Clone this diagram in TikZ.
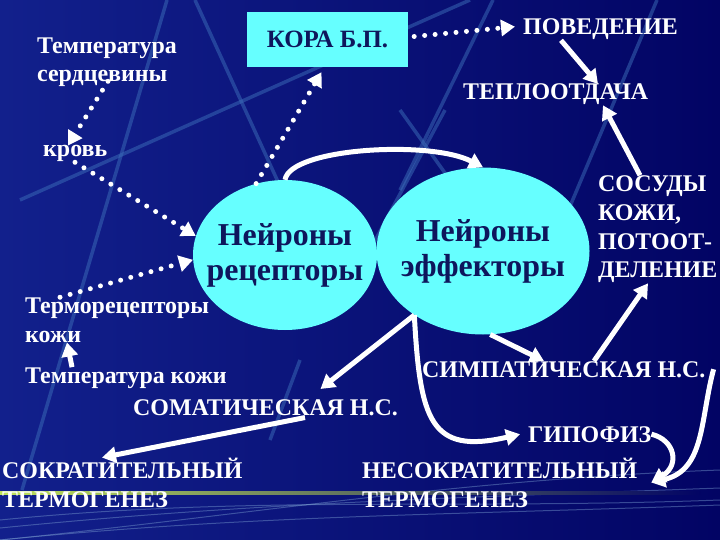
\documentclass[tikz,border=0pt]{standalone}
\usepackage{fontspec}
\setmainfont{Liberation Serif}
\usetikzlibrary{arrows.meta,shapes.geometric}
\definecolor{cnavy}{RGB}{2,4,100}
\definecolor{cbgleft}{RGB}{18,32,140}
\definecolor{ccyan}{RGB}{102,255,255}
\definecolor{cink}{RGB}{14,22,92}
\definecolor{cline}{RGB}{60,110,185}
\definecolor{cgold}{RGB}{190,225,90}

\begin{document}
\begin{tikzpicture}[x=1bp,y=-1bp,
  txt/.style={text=white,font=\bfseries\fontsize{24}{29}\selectfont,inner sep=0pt,align=left},
  neuron/.style={ellipse,fill=ccyan,text=cink,font=\bfseries\fontsize{32}{35}\selectfont,align=center,inner ysep=0pt,inner xsep=-30bp},
  arr/.style={draw=white,line width=5bp,-{Triangle[width=16bp,length=14bp]}},
  dots/.style={draw=white,line width=5bp,line cap=round,dash pattern=on 0pt off 10.5bp,-{Triangle[width=16bp,length=14bp]}},
  bgline/.style={draw=cline,line width=3.5bp,opacity=.5}]

\useasboundingbox (0,0) rectangle (720,540);
\shade[left color=cbgleft,right color=cnavy] (0,0) rectangle (720,540);

% background streaks
\foreach \xa/\ya/\xb/\yb in {167/0/22/490, 195/0/300/230, 20/200/330/62, 330/62/470/0,
    400/110/450/180, 445/110/370/250, 493/0/400/190, 657/0/560/230, 300/360/270/440}
  \draw[bgline] (\xa,\ya) -- (\xb,\yb);
\foreach \ya/\yb in {540/470, 528/488, 540/505, 520/500}
  \draw[cline!70!white,line width=1bp,opacity=.45] (0,\ya) .. controls (250,\ya-25) and (450,\yb+10) .. (720,\yb);
\shade[left color=cgold,right color=cnavy] (0,491.5) rectangle (700,494.5);

% texts and boxes
\node[txt,anchor=base west] (core) at (37,82) {Температура\\сердцевины};
\node[fill=ccyan,minimum width=161bp,minimum height=55bp,text=cink,
  font=\bfseries\fontsize{25}{28}\selectfont] (kora) at (327.5,39.5) {КОРА Б.П.};
\node[txt,anchor=base west] (behav) at (523,35) {ПОВЕДЕНИЕ};
\node[txt,anchor=base west] (heat) at (463,100) {ТЕПЛООТДАЧА};
\node[txt,anchor=base west] (blood) at (43,157) {кровь};
\node[neuron,minimum width=184bp,minimum height=150bp] (recep) at (285,255) {Нейроны\\рецепторы};
\node[neuron,minimum width=213bp,minimum height=167bp] (effec) at (483,251) {Нейроны\\эффекторы};
\node[txt,anchor=base west] (vessels) at (598,278) {СОСУДЫ\\КОЖИ,\\ПОТООТ-\\ДЕЛЕНИЕ};
\node[txt,anchor=base west] (thermo) at (25,342) {Терморецепторы\\кожи};
\node[txt,anchor=base west] (skint) at (25,383) {Температура кожи};
\node[txt,anchor=base west] (somat) at (133,415) {СОМАТИЧЕСКАЯ Н.С.};
\node[txt,anchor=base west] (sympat) at (422,377) {СИМПАТИЧЕСКАЯ Н.С.};
\node[txt,anchor=base west] (pituit) at (528,442) {ГИПОФИЗ};
\node[txt,anchor=base west] (shiv) at (2,507) {СОКРАТИТЕЛЬНЫЙ\\ТЕРМОГЕНЕЗ};
\node[txt,anchor=base west] (nonshiv) at (362,507) {НЕСОКРАТИТЕЛЬНЫЙ\\ТЕРМОГЕНЕЗ};

% dotted links
\draw[dots] ([xshift=6bp,yshift=3bp]kora.east) -- ([xshift=-8bp,yshift=3bp]behav.west);
\draw[dots] ([xshift=71bp,yshift=6bp]core.south west) -- ([xshift=25bp]blood.north west);
\draw[dots] ([xshift=32bp]blood.south west) -- (recep.168);
\draw[dots] ([xshift=35bp]thermo.north west) -- (recep.183);
\draw[dots] (recep.112) -- ([xshift=-6bp,yshift=-5bp]kora.south);

% solid links
\draw[arr] ([xshift=38bp]behav.south west) -- ([xshift=135bp]heat.north west);
\draw[arr] ([xshift=42bp]vessels.north west) -- ([xshift=140bp]heat.south west);
\draw[arr] (recep.north) .. controls (290,148) and (430,140) .. (effec.north);
\draw[arr] (effec.223) -- ([xshift=55bp,yshift=10bp]somat.north);
\draw[arr] (effec.223) .. controls (420,420) and (430,455) .. ([xshift=-8bp]pituit.west);
\draw[arr] (effec.275) -- ([xshift=122bp]sympat.north west);
\draw[arr] ([xshift=172bp]sympat.north west) -- ([xshift=50bp]vessels.south west);
\draw[arr] ([xshift=8bp]sympat.east) .. controls (700,420) and (705,470) .. ([xshift=14bp]nonshiv.east);
\draw[arr] (pituit.east) .. controls (675,440) and (680,465) .. ([xshift=14bp]nonshiv.east);
\draw[arr] ([xshift=172bp,yshift=-2bp]somat.south west) -- ([xshift=100bp]shiv.north west);
\draw[arr] ([xshift=47bp]skint.north west) -- ([xshift=42bp]thermo.south west);

\end{tikzpicture}
\end{document}
